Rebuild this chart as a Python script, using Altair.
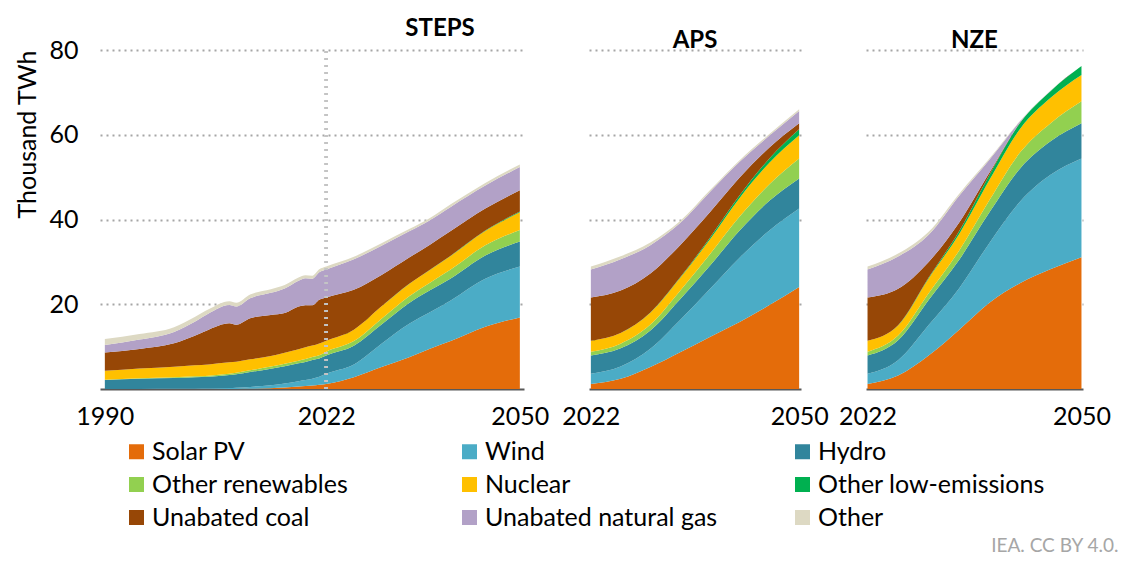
import altair as alt
import pandas as pd

# Generation sources, bottom of the stack first, and their fill colours
SOURCES = [
    "Solar PV", "Wind", "Hydro",
    "Other renewables", "Nuclear", "Other low-emissions",
    "Unabated coal", "Unabated natural gas", "Other",
]
COLORS = [
    "#E46C0A", "#4BACC6", "#31859C",
    "#92D050", "#FFC000", "#00B050",
    "#974706", "#B2A1C7", "#DDD9C3",
]
# The legend fills its grid column by column, so list entries in that order
LEGEND_ORDER = [
    "Solar PV", "Other renewables", "Unabated coal",
    "Wind", "Nuclear", "Unabated natural gas",
    "Hydro", "Other low-emissions", "Other",
]

# Stated Policies: history 1990-2022 and projection to 2050 (thousand TWh)
STEPS_YEARS = [1990, 1995, 2000, 2003, 2005, 2008, 2009, 2011, 2014, 2016, 2018,
               2019, 2020, 2021, 2022, 2026, 2030, 2034, 2037, 2040, 2045, 2050]
STEPS_SOLAR = [0, 0, 0, 0, 0, 0.01, 0.02, 0.06, 0.19, 0.33, 0.58,
               0.68, 0.84, 1.03, 1.2, 2.8, 5.2, 7.5, 9.5, 11.3, 14.7, 16.9]
STEPS_WIND = [0, 0.01, 0.03, 0.06, 0.1, 0.2, 0.27, 0.44, 0.7, 0.95, 1.27,
              1.42, 1.6, 1.87, 2.4, 3.0, 5.5, 7.9, 8.6, 9.6, 11.3, 12.0]
STEPS_HYDRO = [2.1, 2.4, 2.55, 2.7, 2.8, 3.1, 3.2, 3.5, 3.9, 4.1, 4.2,
               4.3, 4.4, 4.3, 4.3, 4.4, 4.5, 4.9, 5.2, 5.2, 5.5, 5.9]
STEPS_OTHER_REN = [0.1, 0.15, 0.2, 0.22, 0.25, 0.3, 0.32, 0.4, 0.5, 0.55, 0.62,
                   0.66, 0.7, 0.75, 0.9, 1.1, 1.4, 1.6, 1.8, 2.1, 2.4, 2.7]
STEPS_NUCLEAR = [2.1, 2.3, 2.5, 2.6, 2.65, 2.7, 2.65, 2.6, 2.5, 2.6, 2.7,
                 2.8, 2.7, 2.8, 2.6, 2.7, 2.9, 2.9, 3.0, 3.2, 3.4, 4.2]
STEPS_OTHER_LOW = [0, 0, 0, 0, 0, 0, 0, 0, 0, 0, 0,
                   0, 0, 0, 0, 0.01, 0.02, 0.03, 0.05, 0.07, 0.1, 0.2]
STEPS_COAL = [4.3, 4.6, 5.5, 7.0, 8.2, 9.2, 8.7, 9.7, 9.7, 9.4, 10.1,
              9.9, 9.5, 10.3, 10.2, 9.4, 7.4, 6.2, 5.9, 5.8, 5.2, 5.0]
STEPS_GAS = [1.8, 2.2, 2.7, 3.3, 3.8, 4.3, 4.3, 4.7, 5.2, 5.8, 6.1,
             6.4, 6.3, 6.5, 6.6, 7.2, 6.9, 6.2, 5.8, 5.7, 5.4, 5.5]
STEPS_OTHER = [1.4, 1.3, 1.1, 1.1, 1.0, 0.9, 0.9, 0.9, 0.85, 0.8, 0.75,
               0.7, 0.7, 0.7, 0.7, 0.6, 0.6, 0.5, 0.5, 0.6, 0.6, 0.6]

# Announced Pledges scenario
APS_YEARS = [2022, 2026, 2030, 2034, 2038, 2042, 2046, 2050]
APS_SOLAR = [1.2, 2.4, 5.2, 8.7, 12.3, 15.8, 19.8, 24.1]
APS_WIND = [2.4, 2.9, 4.3, 7.6, 11.3, 15.2, 17.6, 18.5]
APS_HYDRO = [4.3, 4.3, 4.3, 4.9, 5.5, 6.4, 7.0, 7.1]
APS_OTHER_REN = [0.9, 1.1, 1.4, 2.0, 2.7, 3.3, 3.9, 4.7]
APS_NUCLEAR = [2.6, 2.5, 2.8, 3.0, 3.5, 4.4, 5.1, 5.5]
APS_OTHER_LOW = [0.0, 0.02, 0.05, 0.15, 0.4, 0.6, 1.0, 1.4]
APS_COAL = [10.2, 10.0, 9.2, 7.6, 6.0, 4.2, 2.6, 1.4]
APS_GAS = [6.6, 7.4, 6.7, 5.2, 4.8, 3.7, 2.8, 2.9]
APS_OTHER = [0.7, 0.7, 0.6, 0.5, 0.4, 0.4, 0.4, 0.4]

# Net Zero Emissions by 2050 scenario
NZE_YEARS = [2022, 2026, 2030, 2034, 2038, 2042, 2046, 2050]
NZE_SOLAR = [1.2, 3.2, 7.9, 14.0, 20.4, 25.0, 28.3, 31.1]
NZE_WIND = [2.4, 3.6, 7.2, 9.8, 14.2, 19.3, 22.3, 23.3]
NZE_HYDRO = [4.3, 4.7, 5.9, 6.7, 7.2, 7.8, 7.9, 8.3]
NZE_OTHER_REN = [0.9, 1.1, 1.6, 2.2, 2.9, 3.8, 4.3, 5.2]
NZE_NUCLEAR = [2.6, 2.4, 3.5, 3.9, 4.8, 5.6, 6.0, 6.2]
NZE_OTHER_LOW = [0.0, 0.05, 0.2, 0.7, 1.2, 1.4, 1.6, 2.1]
NZE_COAL = [10.2, 8.6, 3.7, 2.0, 0.5, 0.05, 0.0, 0.0]
NZE_GAS = [6.6, 7.6, 6.4, 6.3, 3.0, 0.3, 0.05, 0.0]
NZE_OTHER = [0.7, 0.7, 0.7, 0.5, 0.3, 0.1, 0.05, 0.0]


def long_table(years, columns):
    rows = []
    for idx, (src, vals) in enumerate(zip(SOURCES, columns)):
        for yr, v in zip(years, vals):
            rows.append({"year": yr, "source": src, "order": idx, "value": v})
    return pd.DataFrame(rows)


steps_df = long_table(STEPS_YEARS, [STEPS_SOLAR, STEPS_WIND, STEPS_HYDRO, STEPS_OTHER_REN,
                                    STEPS_NUCLEAR, STEPS_OTHER_LOW, STEPS_COAL, STEPS_GAS,
                                    STEPS_OTHER])
aps_df = long_table(APS_YEARS, [APS_SOLAR, APS_WIND, APS_HYDRO, APS_OTHER_REN, APS_NUCLEAR,
                                APS_OTHER_LOW, APS_COAL, APS_GAS, APS_OTHER])
nze_df = long_table(NZE_YEARS, [NZE_SOLAR, NZE_WIND, NZE_HYDRO, NZE_OTHER_REN, NZE_NUCLEAR,
                                NZE_OTHER_LOW, NZE_COAL, NZE_GAS, NZE_OTHER])

color_of = dict(zip(SOURCES, COLORS))
LEGEND_COLORS = [color_of[s] for s in LEGEND_ORDER]

FONT = "Lato"
GRID = dict(grid=True, gridColor="#a6a6a6", gridDash=[2, 4], gridWidth=2,
            domain=False, ticks=False)

LEGEND = alt.Legend(
    title="", orient="none", legendX=24, legendY=389, columns=3,
    symbolType="square", symbolSize=225, symbolStrokeWidth=0,
    labelFontSize=25, labelFont=FONT, labelColor="#000000", labelLimit=400,
    labelOffset=3, columnPadding=72, rowPadding=7, gridAlign="all",
)


def panel(df, domain, xvals, name, title_dx, first):
    if first:
        y_enc = alt.Y(
            "value:Q", stack="zero", title="Thousand TWh",
            scale=alt.Scale(domain=[0, 80], nice=False),
            axis=alt.Axis(values=[20, 40, 60, 80], labelFontSize=25, labelPadding=22,
                          labelColor="#000000", titleFontSize=25, titleFontWeight="normal",
                          titleColor="#000000", titleAngle=270, titleAlign="right",
                          titleBaseline="middle", titleX=-73, titleY=0, **GRID),
        )
    else:
        y_enc = alt.Y(
            "value:Q", stack="zero", title="",
            scale=alt.Scale(domain=[0, 80], nice=False),
            axis=alt.Axis(values=[20, 40, 60, 80], labels=False, **GRID),
        )
    area = alt.Chart(df).mark_area(interpolate="monotone").encode(
        x=alt.X("year:Q", title="",
                scale=alt.Scale(domain=domain, nice=False, zero=False),
                axis=alt.Axis(values=xvals, format="d", labelFontSize=25, labelPadding=15,
                              labelColor="#000000", labelFlush=False, ticks=False, grid=False,
                              domainColor="#595959", domainWidth=2)),
        y=y_enc,
        color=alt.Color("source:N", scale=alt.Scale(domain=LEGEND_ORDER, range=LEGEND_COLORS),
                        legend=LEGEND),
        order=alt.Order("order:Q", sort="ascending"),
    )
    return area, alt.TitleParams(name, fontSize=24, fontWeight="bold", font=FONT,
                                 color="#000000", anchor="middle", frame="group",
                                 dx=title_dx, offset=-3)


steps_area, steps_title = panel(steps_df, [1989.3, 2050.6], [1990, 2022, 2050],
                                "STEPS", 128, True)
# Dotted marker separating history from projections
base_year = alt.Chart(steps_df).mark_rule(
    color="#c4c4c4", strokeDash=[2, 5], strokeWidth=2.5
).encode(x=alt.datum(2022), y=alt.datum(0), y2=alt.datum(80))
steps = alt.layer(steps_area, base_year).properties(width=424, height=339, title=steps_title)

aps_area, aps_title = panel(aps_df, [2021.75, 2050.25], [2022, 2050], "APS", 0, False)
aps = aps_area.properties(width=212, height=339, title=aps_title)

nze_area, nze_title = panel(nze_df, [2021.8, 2050.2], [2022, 2050], "NZE", 0, False)
nze = nze_area.properties(width=217, height=339, title=nze_title)

chart = alt.hconcat(steps, aps, nze, spacing=65, bounds="flush").properties(
    padding={"left": 15, "top": 17, "right": 2, "bottom": 3},
    title=alt.TitleParams("IEA. CC BY 4.0.", orient="bottom", anchor="end",
                          fontSize=19, font=FONT, color="#a6a6a6", fontWeight="normal",
                          offset=6, dx=8),
).configure(font=FONT).configure_view(strokeWidth=0)

chart.save("out.html", embed_options={"renderer": "svg", "actions": False})
